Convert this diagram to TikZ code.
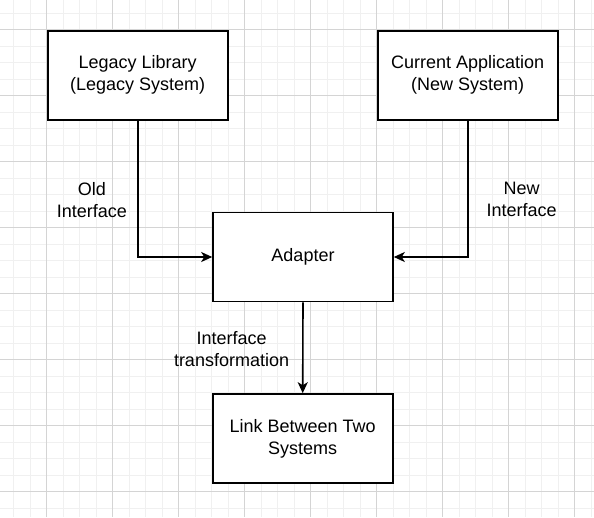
\documentclass[tikz,border=0pt]{standalone}
\usepackage{fontspec}
\setmainfont{Liberation Sans}
\usetikzlibrary{positioning,arrows.meta}

\tikzset{
  box/.style={draw,line width=1.6pt,minimum width=180pt,minimum height=89pt,inner sep=0pt,align=center,font=\fontsize{18}{22}\selectfont},
  lbl/.style={align=center,inner sep=3pt,font=\fontsize{18}{22}\selectfont},
  arr/.style={line width=1.6pt,-{Stealth[length=11pt,width=10pt,inset=3pt]}},
  minorgrid/.style={draw=black!6,line width=1pt},
  majorgrid/.style={draw=black!17,line width=1pt}
}

\begin{document}
\begin{tikzpicture}[x=1pt,y=-1pt]

\useasboundingbox[fill=white] (0,0) rectangle (594,517);

% grid
\foreach \i in {0,...,35} \draw[minorgrid] (13.5+16.5*\i,0) -- (13.5+16.5*\i,517);
\foreach \j in {0,...,30} \draw[minorgrid] (0,13+16.5*\j) -- (594,13+16.5*\j);
\foreach \i in {0,...,8} \draw[majorgrid] (46.5+66*\i,0) -- (46.5+66*\i,517);
\foreach \j in {0,...,7} \draw[majorgrid] (0,29.5+66*\j) -- (594,29.5+66*\j);

\node[box,fill=white] (legacy) at (137.7,75.3) {Legacy Library\\(Legacy System)};
\node[box,fill=white] (current) at (467.7,75.3) {Current Application\\(New System)};
\node[box,fill=white] (adapter) at (303,257) {Adapter};
\node[box,fill=white] (link) at (302.7,438.5) {Link Between Two\\Systems};

\draw[arr] (legacy.south) |- node[lbl,pos=0.29,left=7pt] {Old\\Interface} (adapter.west);
\draw[arr] (current.south) |- node[lbl,pos=0.29,right=15pt] {New\\Interface} (adapter.east);
\draw[arr] (adapter.south) -- node[lbl,pos=0.51,left=10pt] {Interface\\transformation} (link.north);

\end{tikzpicture}
\end{document}
